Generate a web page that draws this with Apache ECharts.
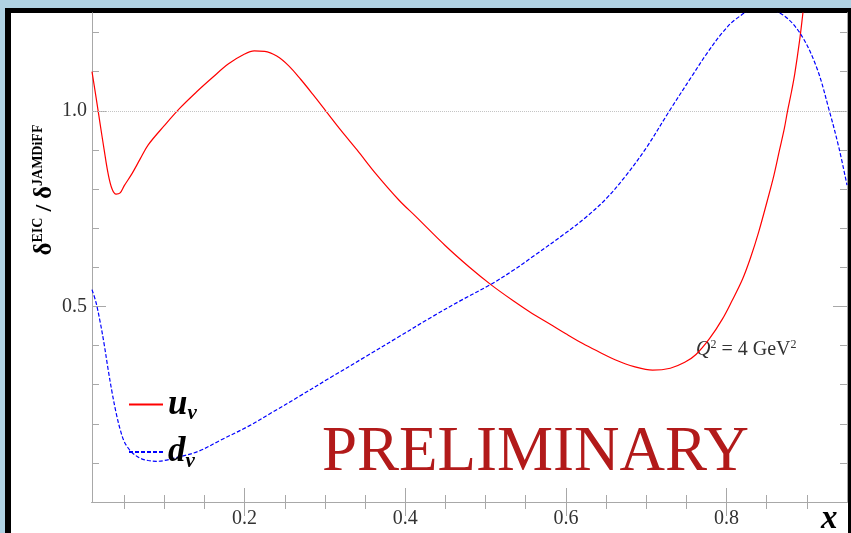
<!DOCTYPE html>
<html>
<head>
<meta charset="utf-8">
<script src="https://cdn.jsdelivr.net/npm/echarts@6/dist/echarts.min.js"></script>
<style>
  html, body { margin: 0; padding: 0; width: 851px; height: 533px; overflow: hidden; background: #b0d2e3; }
  #frame { position: absolute; left: 5px; top: 8px; width: 846px; height: 540px; box-sizing: border-box;
           border: 5px solid #000; border-left-width: 6px; border-right-width: 3px; background: #fff; }
  #chart { position: absolute; left: 0; top: 0; width: 851px; height: 533px; }
</style>
</head>
<body>
<div id="frame"></div>
<div id="chart"></div>
<script>
// Ratio of the EIC-projected transversity to the JAMDiFF result, Q^2 = 4 GeV^2
const uvX = [0.01, 0.015, 0.02, 0.025, 0.03, 0.035, 0.04, 0.045, 0.05, 0.06, 0.07, 0.08, 0.1, 0.12,
             0.14, 0.16, 0.18, 0.2, 0.212, 0.225, 0.24, 0.255, 0.27, 0.285, 0.301, 0.32, 0.34, 0.363,
             0.392, 0.413, 0.45, 0.48, 0.507, 0.534, 0.558, 0.58, 0.6, 0.621, 0.642, 0.662, 0.685, 0.708,
             0.73, 0.748, 0.762, 0.779, 0.795, 0.807, 0.82, 0.83, 0.84, 0.851, 0.859, 0.866, 0.872, 0.876,
             0.881, 0.885, 0.891, 0.895, 0.9];
const uvY = [1.10, 1.035, 0.968, 0.902, 0.84, 0.80, 0.787, 0.79, 0.808, 0.84, 0.877, 0.913, 0.962, 1.008,
             1.048, 1.085, 1.12, 1.145, 1.153, 1.152, 1.14, 1.115, 1.08, 1.042, 1.0, 0.95, 0.9, 0.84,
             0.772, 0.73, 0.655, 0.6, 0.555, 0.515, 0.482, 0.455, 0.43, 0.405, 0.383, 0.363, 0.346, 0.337,
             0.342, 0.357, 0.377, 0.418, 0.468, 0.515, 0.57, 0.625, 0.69, 0.772, 0.835, 0.9, 0.955, 1.0,
             1.05, 1.095, 1.18, 1.248, 1.335];

const dvX = [0.01, 0.015, 0.02, 0.025, 0.03, 0.035, 0.04, 0.045, 0.05, 0.055, 0.06, 0.07, 0.08, 0.09,
             0.1, 0.12, 0.143, 0.17, 0.205, 0.235, 0.268, 0.31, 0.351, 0.39, 0.434, 0.47, 0.508, 0.535,
             0.558, 0.6, 0.625, 0.65, 0.675, 0.7, 0.729, 0.758, 0.775, 0.795, 0.812, 0.84, 0.868, 0.891,
             0.912, 0.928, 0.94, 0.95];
const dvY = [0.543, 0.51, 0.462, 0.405, 0.34, 0.28, 0.228, 0.186, 0.155, 0.138, 0.126, 0.112, 0.106, 0.104,
             0.106, 0.116, 0.13, 0.158, 0.194, 0.23, 0.27, 0.322, 0.372, 0.42, 0.474, 0.516, 0.558, 0.593,
             0.626, 0.688, 0.728, 0.775, 0.835, 0.905, 1.0, 1.092, 1.145, 1.2, 1.235, 1.265, 1.248, 1.2,
             1.112, 1.0, 0.905, 0.81];

const seriesNames = ['u_v', 'd_v'];
const xMajor = [0.2, 0.4, 0.6, 0.8];
const xMinor = [0.05, 0.1, 0.15, 0.25, 0.3, 0.35, 0.45, 0.5, 0.55, 0.65, 0.7, 0.75, 0.85, 0.9];
const yMajor = [0.5, 1.0];
const yMinor = [0.1, 0.2, 0.3, 0.4, 0.6, 0.7, 0.8, 0.9, 1.1, 1.2];
const refLine = 1.0;

const FONT = '"Liberation Serif", "DejaVu Serif", serif';
const AXIS_GREY = '#a8a8a8';

const pairs = (xs, ys) => xs.map((x, i) => [x, ys[i]]);

function axis(kind, grid, pos, ticks, len, labelled) {
  const range = kind === 'x' ? { min: 0.01, max: 0.95 } : { min: 0, max: 1.25 };
  return Object.assign({
    type: 'value', gridIndex: grid, position: pos,
    axisLine: { show: true, lineStyle: { color: AXIS_GREY, width: 1 } },
    axisTick: { show: true, inside: true, length: len, customValues: ticks,
                lineStyle: { color: AXIS_GREY, width: 1 } },
    axisLabel: labelled
      ? { show: true, customValues: ticks, formatter: v => v.toFixed(1),
          fontFamily: FONT, fontSize: 20, color: '#333', margin: kind === 'x' ? 7 : 5 }
      : { show: false },
    splitLine: { show: false }
  }, range);
}

const chart = echarts.init(document.getElementById('chart'), null, { renderer: 'canvas' });
const gridBox = { left: 92, right: 4, top: 13, bottom: 31 };

chart.setOption({
  animation: false,
  backgroundColor: 'transparent',
  grid: [Object.assign({}, gridBox), Object.assign({}, gridBox)],
  xAxis: [
    axis('x', 0, 'bottom', xMajor, 14, true),
    axis('x', 0, 'top', xMajor, 14, false),
    axis('x', 1, 'bottom', xMinor, 7, false),
    axis('x', 1, 'top', xMinor, 7, false)
  ],
  yAxis: [
    axis('y', 0, 'left', yMajor, 14, true),
    axis('y', 0, 'right', yMajor, 14, false),
    axis('y', 1, 'left', yMinor, 7, false),
    axis('y', 1, 'right', yMinor, 7, false)
  ],
  legend: {
    data: seriesNames,
    orient: 'vertical',
    left: 123, top: 382,
    itemWidth: 34, itemHeight: 12, itemGap: 10,
    selectedMode: false,
    itemStyle: { opacity: 0 },
    formatter: n => { const p = n.split('_'); return '{m|' + p[0] + '}{s|' + p[1] + '}'; },
    textStyle: {
      rich: {
        m: { fontFamily: FONT, fontStyle: 'italic', fontWeight: 'bold', fontSize: 35, lineHeight: 40, color: '#000' },
        s: { fontFamily: FONT, fontStyle: 'italic', fontWeight: 'bold', fontSize: 21, lineHeight: 21,
             verticalAlign: 'bottom', color: '#000' }
      }
    }
  },
  series: [
    {
      name: seriesNames[0], type: 'line', xAxisIndex: 0, yAxisIndex: 0,
      data: pairs(uvX, uvY), symbol: 'none', smooth: 0.35, clip: true,
      lineStyle: { color: '#ff0000', width: 1.2 }, itemStyle: { color: '#ff0000' },
      markLine: {
        silent: true, symbol: 'none', label: { show: false },
        lineStyle: { color: '#c4c4c4', type: 'dotted', width: 1 },
        data: [{ yAxis: refLine }]
      },
      z: 3
    },
    {
      name: seriesNames[1], type: 'line', xAxisIndex: 0, yAxisIndex: 0,
      data: pairs(dvX, dvY), symbol: 'none', smooth: 0.35, clip: true,
      lineStyle: { color: '#0000ff', width: 1.2, type: [4, 2] }, itemStyle: { color: '#0000ff' },
      z: 3
    }
  ],
  graphic: [
    { // vertical axis title
      type: 'text', x: 45, y: 190, rotation: Math.PI / 2,
      style: {
        text: '{d|δ}{s|EIC}{n| / }{d|δ}{s|JAMDiFF}',
        align: 'center', verticalAlign: 'middle',
        rich: {
          d: { fontFamily: FONT, fontWeight: 'bold', fontSize: 25, lineHeight: 28, fill: '#000' },
          s: { fontFamily: FONT, fontWeight: 'bold', fontSize: 14, lineHeight: 14, verticalAlign: 'top', fill: '#000' },
          n: { fontFamily: FONT, fontWeight: 'bold', fontSize: 24, lineHeight: 28, fill: '#000' }
        }
      }
    },
    { // horizontal axis title
      type: 'text', x: 821, y: 519,
      style: { text: 'x', fontFamily: FONT, fontStyle: 'italic', fontWeight: 'bold', fontSize: 33,
               fill: '#000', align: 'left', verticalAlign: 'middle' }
    },
    { // scale annotation
      type: 'text', x: 696, y: 350,
      style: {
        text: '{q|Q}{p|2}{n| = 4 GeV}{p|2}',
        align: 'left', verticalAlign: 'middle',
        rich: {
          q: { fontFamily: FONT, fontStyle: 'italic', fontSize: 20, lineHeight: 22, fill: '#333' },
          p: { fontFamily: FONT, fontSize: 12, lineHeight: 12, verticalAlign: 'top', fill: '#333' },
          n: { fontFamily: FONT, fontSize: 20, lineHeight: 22, fill: '#333' }
        }
      }
    },
    { // watermark
      type: 'text', x: 322, y: 453, z: 1,
      style: { text: 'PRELIMINARY', fontFamily: FONT, fontSize: 63, fill: '#b21a1a',
               align: 'left', verticalAlign: 'middle' }
    }
  ]
});
</script>
</body>
</html>
